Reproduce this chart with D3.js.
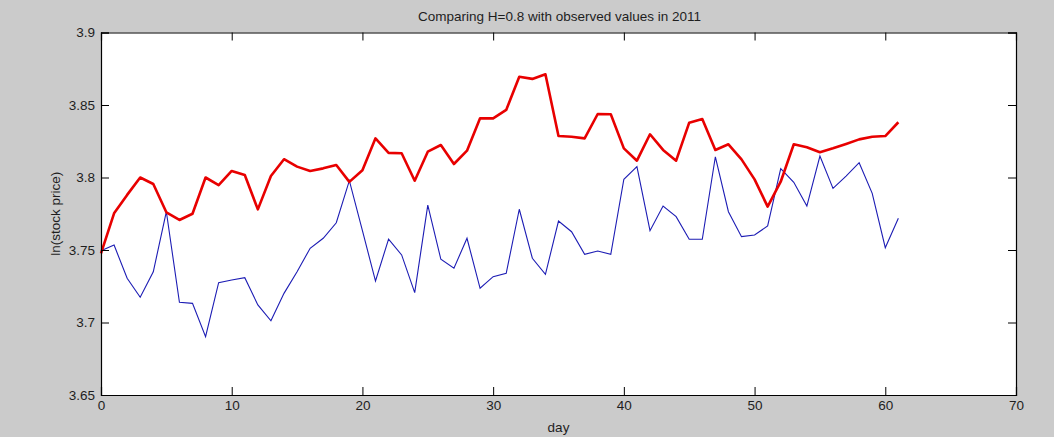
<!DOCTYPE html>
<html>
<head>
<meta charset="utf-8">
<script src="https://cdn.jsdelivr.net/npm/d3@7"></script>
<style>
  html, body { margin: 0; padding: 0; background: #cbcbcb; }
  svg { display: block; }
  text { font-family: Arial, "Liberation Sans", sans-serif; fill: #1e1e1e; }
</style>
</head>
<body>
<svg id="chart" width="1054" height="437"></svg>
<script>
const days = d3.range(0, 62);
const predicted = [
  3.7477, 3.7753, 3.788, 3.800, 3.7955, 3.776, 3.7707, 3.775, 3.800, 3.7948,
  3.8045, 3.8017, 3.778, 3.801, 3.8126, 3.8075, 3.8045, 3.8063, 3.8086, 3.797,
  3.805, 3.827, 3.817, 3.8167, 3.7978, 3.8178, 3.8224, 3.8093, 3.8185, 3.8408,
  3.8408, 3.8466, 3.8695, 3.868, 3.8712, 3.8286, 3.8281, 3.827, 3.8438, 3.8436,
  3.8201, 3.8116, 3.8298, 3.819, 3.8116, 3.8378, 3.8403, 3.819, 3.8229, 3.8125,
  3.7987, 3.7799, 3.7971, 3.8229, 3.8208, 3.8174, 3.8201, 3.8231, 3.8263, 3.8281,
  3.8286, 3.8381
];
const observed = [
  3.7495, 3.7534, 3.7305, 3.7174, 3.735, 3.7764, 3.7139, 3.7132, 3.6902, 3.7275,
  3.7293, 3.7309, 3.7121, 3.7012, 3.7201, 3.735, 3.7512, 3.7581, 3.7688, 3.7978,
  3.7633, 3.7286, 3.7575, 3.7466, 3.7206, 3.781, 3.7436, 3.7374, 3.7581, 3.7236,
  3.7316, 3.7339, 3.7781, 3.7443, 3.7332, 3.770, 3.7626, 3.747, 3.7493, 3.747,
  3.7988, 3.8075, 3.7633, 3.7803, 3.773, 3.7574, 3.7574, 3.8143, 3.7764, 3.7592,
  3.7603, 3.7666, 3.8061, 3.7967, 3.7803, 3.8148, 3.7925, 3.801, 3.8102, 3.7891,
  3.7516, 3.7719
];
const xTicks = [0, 10, 20, 30, 40, 50, 60, 70];
const yTicks = [3.65, 3.7, 3.75, 3.8, 3.85, 3.9];
const yTickLabels = ["3.65", "3.7", "3.75", "3.8", "3.85", "3.9"];
const titleText = "Comparing H=0.8 with observed values in 2011";
const xLabel = "day";
const yLabel = "ln(stock price)";

const L = 101, R = 1016, T = 32.5, B = 395;
const FS = 13.5;
const svg = d3.select("#chart");
const x = d3.scaleLinear().domain([0, 70]).range([L, R]);
const y = d3.scaleLinear().domain([3.65, 3.9]).range([B, T]);

svg.append("rect").attr("x", L).attr("y", T).attr("width", R - L).attr("height", B - T)
  .attr("fill", "#fff");

const line = d3.line().x((d, i) => x(days[i])).y(d => y(d));

svg.append("path").datum(observed).attr("d", line)
  .attr("fill", "none").attr("stroke", "#1c1cb4").attr("stroke-width", 1.1)
  .attr("stroke-linejoin", "miter");
svg.append("path").datum(predicted).attr("d", line)
  .attr("fill", "none").attr("stroke", "#e80000").attr("stroke-width", 2.6)
  .attr("stroke-linejoin", "round");

const tk = 8;
const xb = svg.append("g").attr("transform", `translate(0,${B})`)
  .call(d3.axisBottom(x).tickValues(xTicks).tickSize(-tk).tickPadding(6).tickFormat(d3.format("d")));
const xt = svg.append("g").attr("transform", `translate(0,${T})`)
  .call(d3.axisTop(x).tickValues(xTicks).tickSize(-tk).tickFormat(""));
const yl = svg.append("g").attr("transform", `translate(${L},0)`)
  .call(d3.axisLeft(y).tickValues(yTicks).tickSize(-tk).tickPadding(6)
    .tickFormat((d, i) => yTickLabels[i]));
const yr = svg.append("g").attr("transform", `translate(${R},0)`)
  .call(d3.axisRight(y).tickValues(yTicks).tickSize(-tk).tickFormat(""));

[xb, xt, yl, yr].forEach(g => {
  g.selectAll(".domain").attr("stroke", "#000").attr("stroke-width", 1.2);
  g.selectAll(".tick line").attr("stroke", "#000").attr("stroke-width", 1);
  g.selectAll("text").attr("font-size", FS).attr("fill", "#1e1e1e")
    .attr("font-family", "Arial, 'Liberation Sans', sans-serif");
});
xb.selectAll("text").attr("dy", "0.7em");

svg.append("text").attr("x", (L + R) / 2 + 1).attr("y", 21).attr("text-anchor", "middle")
  .attr("font-size", FS).text(titleText);
svg.append("text").attr("x", (L + R) / 2).attr("y", 432).attr("text-anchor", "middle")
  .attr("font-size", FS).text(xLabel);
svg.append("text").attr("transform", `translate(60,${(T + B) / 2}) rotate(-90)`)
  .attr("text-anchor", "middle").attr("font-size", FS).text(yLabel);
</script>
</body>
</html>
